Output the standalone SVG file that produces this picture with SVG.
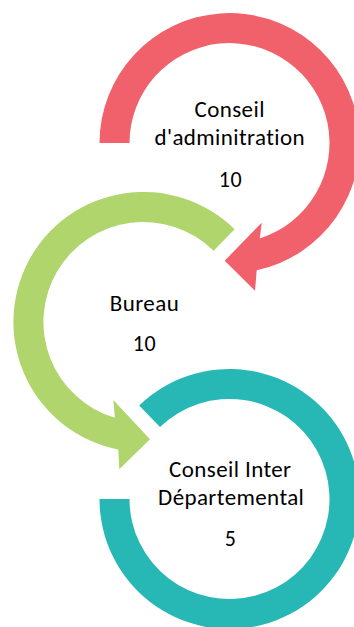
<svg xmlns="http://www.w3.org/2000/svg" width="354" height="627" viewBox="0 0 354 627">
  <style>
    .lbl { font-family: Carlito, Calibri, Lato, "Liberation Sans", sans-serif; font-size: 23px; letter-spacing: 0.4px; fill: #000; text-anchor: middle; font-variant-ligatures: none; font-feature-settings: "liga" 0, "clig" 0; }
    .num { font-size: 22px; letter-spacing: 0.5px; }
    .red { fill: #F1616B; }
    .green { fill: #B0D56D; }
    .teal { fill: #27B8B5; }
  </style>
  <rect width="354" height="627" fill="#fff"/>
  <g id="connectors"></g>
  <g id="node-bureau">
    <path class="green" d="M234.6,229.3 A130,130 0 1 0 118.3,449.5 L119.3,469.3 L150,439.3 L113.3,400 L114.9,417.8 A100,100 0 1 1 213.6,250.7 Z"/>
    <text class="lbl" x="144.5" y="310.7">Bureau</text>
    <text class="lbl num" x="144.5" y="351">10</text>
  </g>
  <g id="node-conseil-administration">
    <path class="red" d="M99.5,143 A130,130 0 1 1 256.7,270.2 L255,290.7 L224.7,260.7 L261.7,222.7 L259.8,238.4 A100,100 0 1 0 129.5,143 Z"/>
    <text class="lbl" x="229.7" y="117.3">Conseil<tspan x="229.7" dy="27.8">d'adminitration</tspan></text>
    <text class="lbl num" x="230.5" y="187">10</text>
  </g>
  <g id="node-conseil-inter">
    <path class="teal" d="M139.2,405.5 A130,130 0 1 1 99.5,499 L129.5,499 A100,100 0 1 0 160,427.1 Z"/>
    <text class="lbl" x="230.3" y="476.7">Conseil Inter<tspan x="231.2" dy="27.8">Départemental</tspan></text>
    <text class="lbl num" x="230.7" y="546">5</text>
  </g>
</svg>
